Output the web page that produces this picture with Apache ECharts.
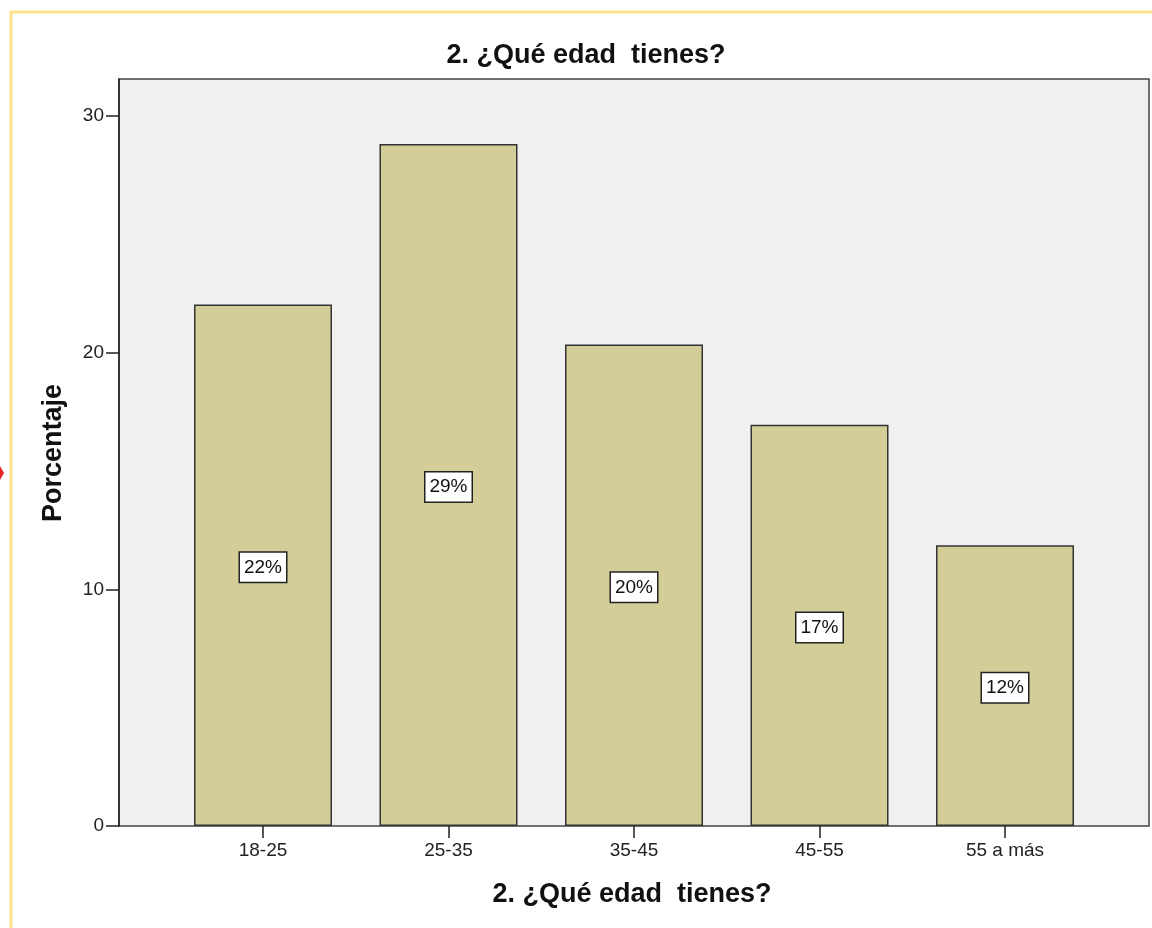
<!DOCTYPE html>
<html><head><meta charset="utf-8">
<script src="https://cdn.jsdelivr.net/npm/echarts@6/dist/echarts.min.js"></script>
<style>html,body{margin:0;padding:0;background:#fff}#c{width:1152px;height:928px}</style>
</head><body><div id="c"></div>
<script>
const categories = ['18-25', '25-35', '35-45', '45-55', '55 a más'];
const percentages = [22.03, 28.81, 20.34, 16.95, 11.86];
const barLabels = ['22%', '29%', '20%', '17%', '12%'];
const yTicks = [0, 10, 20, 30];
const titleText = '2. ¿Qué edad  tienes?';
const xName = '2. ¿Qué edad  tienes?';
const yName = 'Porcentaje';

const FONT = '"Liberation Sans", Arial, sans-serif';
const YMAX = 31.56;
const chart = echarts.init(document.getElementById('c'), null, {renderer: 'canvas'});
chart.setOption({
  animation: false,
  backgroundColor: '#ffffff',
  graphic: [
    {type: 'polyline', shape: {points: [[1160, 12], [11, 12], [11, 940]]},
     style: {stroke: '#fde48c', lineWidth: 3, fill: null}, silent: true},
    {type: 'polygon', shape: {points: [[0, 466], [4, 473], [0, 480]]},
     style: {fill: '#e8262a'}, silent: true},
    {type: 'text', x: 586, y: 56,
     style: {text: titleText, fontFamily: FONT, fontSize: 27, fontWeight: 'bold', fill: '#111',
             align: 'center', verticalAlign: 'middle'}},
    {type: 'text', x: 632, y: 895,
     style: {text: xName, fontFamily: FONT, fontSize: 27, fontWeight: 'bold', fill: '#111',
             align: 'center', verticalAlign: 'middle'}},
    {type: 'text', x: 54, y: 453, rotation: Math.PI / 2,
     style: {text: yName, fontFamily: FONT, fontSize: 27, fontWeight: 'bold', fill: '#111',
             align: 'center', verticalAlign: 'middle'}}
  ],
  grid: [
    {left: 119, right: 3, top: 79, bottom: 102, show: true, backgroundColor: '#f0f0f0',
     borderColor: '#444', borderWidth: 1.5},
    {left: 170.25, right: 54.25, top: 79, bottom: 102}
  ],
  xAxis: [
    {gridIndex: 0, type: 'value', min: 0, max: 1, show: false},
    {gridIndex: 1, type: 'category', data: categories,
     axisLine: {show: false},
     axisTick: {show: true, alignWithLabel: true, length: 12, lineStyle: {color: '#222', width: 1.5}},
     axisLabel: {fontFamily: FONT, fontSize: 19, color: '#222', margin: 15}}
  ],
  yAxis: [
    {gridIndex: 0, type: 'value', min: 0, max: YMAX,
     axisLine: {show: true, lineStyle: {color: '#222', width: 1.5}},
     axisTick: {show: true, length: 13, customValues: yTicks, lineStyle: {color: '#222', width: 1.5}},
     axisLabel: {fontFamily: FONT, fontSize: 19, color: '#222', margin: 15, customValues: yTicks},
     splitLine: {show: false}},
    {gridIndex: 1, type: 'value', min: 0, max: YMAX, show: false}
  ],
  series: [{
    type: 'bar', xAxisIndex: 1, yAxisIndex: 1,
    data: percentages, barWidth: 138,
    itemStyle: {color: '#d3ce98', borderColor: '#333', borderWidth: 1.5},
    label: {
      show: true, position: 'inside', offset: [0, 2],
      formatter: p => barLabels[p.dataIndex],
      fontFamily: FONT, fontSize: 19, color: '#111',
      backgroundColor: '#fff', borderColor: '#222', borderWidth: 1.5,
      padding: [6, 4, 4, 4]
    }
  }]
});
</script></body></html>
